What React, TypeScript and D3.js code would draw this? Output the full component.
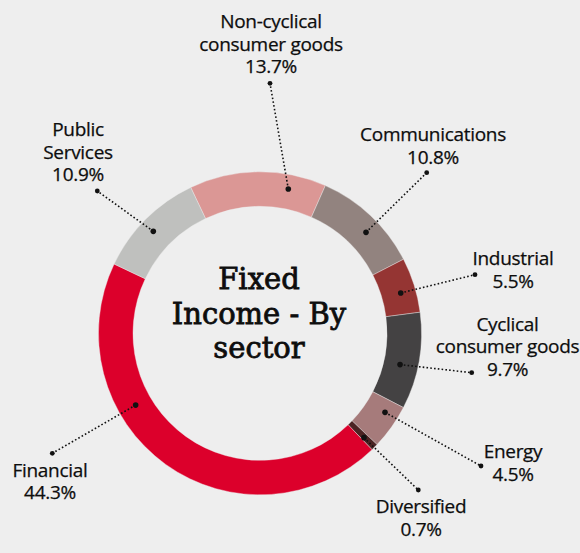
import React from "react";
import * as d3 from "d3";

const categories = [
  "Non-cyclical\nconsumer goods",
  "Communications",
  "Industrial",
  "Cyclical\nconsumer goods",
  "Energy",
  "Diversified",
  "Financial",
  "Public\nServices",
];
const values = [13.7, 10.8, 5.5, 9.7, 4.5, 0.7, 44.3, 10.9];
const colors = ["#db9795", "#92837f", "#953533", "#444243", "#a67b7b", "#4b2323", "#dc002b", "#bfc0be"];

// annotation layout (label text anchor, label-end dot, ring dot polar position)
const labelX = [271, 433, 513, 507.5, 513, 421, 50, 78];
const labelY = [28.3, 141, 265, 330.7, 458.3, 513.3, 476.7, 136];
const labelDotX = [270, 426.7, 475, 471.7, 481, 418.3, 52.3, 97.3];
const labelDotY = [83.3, 172.7, 274.7, 372.7, 466, 490, 453.3, 191];
const ringDotAngle = [11.1, 46.4, 74.0, 102.6, 122.3, 135.1, 240, -46.3];
const ringDotRadius = [147, 146.4, 146.4, 143.5, 147.9, 147.3, 143.6, 147.6];

const titleLines = ["Fixed", "Income - By", "sector"];

const W = 580;
const H = 553;
const CX = 260;
const CY = 333.3;
const R_OUT = 161.5;
const R_IN = 127;
const START_DEG = -25.4;

export default function App() {
  React.useEffect(() => {
    document.body.style.margin = "0";
    document.body.style.background = "#eeeeee";
  }, []);

  const rad = (d: number) => (d * Math.PI) / 180;
  const pie = d3
    .pie<number>()
    .sort(null)
    .value((d) => d)
    .startAngle(rad(START_DEG))
    .endAngle(rad(START_DEG + 360));
  const arcs = pie(values);
  const arc = d3.arc<d3.PieArcDatum<number>>().innerRadius(R_IN).outerRadius(R_OUT);

  const polar = (deg: number, r: number) => [CX + r * Math.sin(rad(deg)), CY - r * Math.cos(rad(deg))];

  return (
    <svg width={W} height={H} style={{ display: "block", background: "#eeeeee" }}>
      <rect x={0} y={0} width={W} height={H} fill="#eeeeee" />
      <g transform={`translate(${CX},${CY})`}>
        {arcs.map((a, i) => (
          <path key={i} d={arc(a) || ""} fill={colors[i]} stroke="#eeeeee" strokeWidth={0.4} />
        ))}
      </g>
      {categories.map((c, i) => {
        const [rx, ry] = polar(ringDotAngle[i], ringDotRadius[i]);
        const lines = [...c.split("\n"), values[i].toFixed(1) + "%"];
        return (
          <g key={"l" + i}>
            <line
              x1={rx}
              y1={ry}
              x2={labelDotX[i]}
              y2={labelDotY[i]}
              stroke="#111"
              strokeWidth={1.6}
              strokeDasharray="1.6 2.2"
            />
            <circle cx={rx} cy={ry} r={2.8} fill="#111" />
            <circle cx={labelDotX[i]} cy={labelDotY[i]} r={2.4} fill="#111" />
            {lines.map((t, k) => (
              <text
                key={k}
                x={labelX[i]}
                y={labelY[i] + k * 22.5}
                textAnchor="middle"
                fontFamily="'Open Sans', sans-serif"
                fontSize={19}
                fill="#0d0d0d"
                letterSpacing={-0.3}
                stroke="#0d0d0d"
                strokeWidth={0.25}
              >
                {t}
              </text>
            ))}
          </g>
        );
      })}
      {titleLines.map((t, k) => (
        <text
          key={"t" + k}
          x={259}
          y={289.3 + k * 34.5}
          textAnchor="middle"
          fontFamily="'DejaVu Serif', serif"
          fontSize={29}
          fill="#0d0d0d"
          stroke="#0d0d0d"
          strokeWidth={0.8}
        >
          {t}
        </text>
      ))}
    </svg>
  );
}
